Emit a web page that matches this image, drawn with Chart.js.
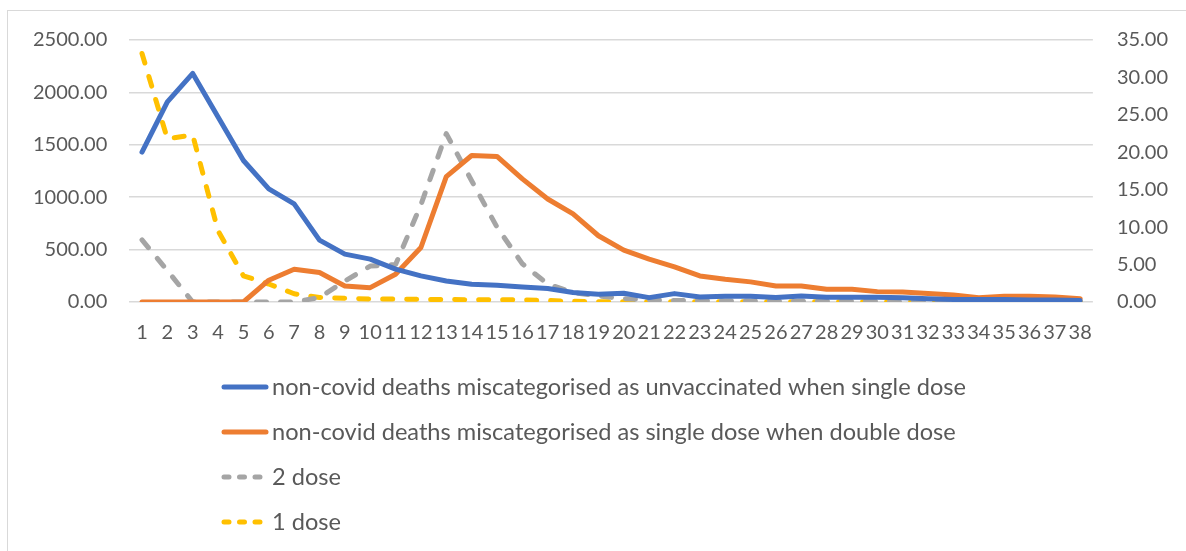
<!DOCTYPE html>
<html>
<head>
<meta charset="utf-8">
<script src="https://cdn.jsdelivr.net/npm/chart.js@4/dist/chart.umd.min.js"></script>
<style>
  body { margin: 0; background: #fff; }
  #wrap { position: relative; width: 1186px; height: 551px; overflow: hidden; }
  #frame { position: absolute; left: 7px; top: 10px; width: 1200px; height: 600px; border: 1px solid #d9d9d9; }
  #chart { position: absolute; left: 0; top: 0; }
</style>
</head>
<body>
<div id="wrap">
  <div id="frame"></div>
  <canvas id="chart" width="1186" height="551"></canvas>
</div>
<script>
var weeks = [];
for (var w = 1; w <= 38; w++) weeks.push(String(w));

// left axis
var unvaxWhenSingle = [1430, 1909, 2181, 1765, 1350, 1079, 936, 591, 457, 409,
  313, 249, 201, 169, 160, 144, 128, 90, 73, 83,
  42, 80, 48, 54, 54, 42, 57, 45, 45, 45,
  40, 30, 25, 25, 25, 20, 18, 15];
var singleWhenDouble = [0, 0, 0, 0, 0, 208, 313, 281, 153, 137,
  265, 520, 1197, 1398, 1389, 1175, 983, 840, 632, 495,
  409, 335, 249, 217, 192, 153, 153, 121, 121, 99,
  95, 80, 67, 41, 54, 54, 48, 32];
// right axis
var twoDose = [8.3, 4.2, 0, 0, 0, 0, 0, 0.6, 2.8, 4.8,
  5.0, 13.0, 22.5, 16.2, 10.0, 5.1, 2.4, 1.25, 0.8, 0.45,
  0.3, 0.2, 0.2, 0.15, 0.15, 0.1, 0.1, 0.1, 0.1, 0.1,
  0.05, 0.05, 0.05, 0.05, 0.05, 0.05, 0.05, 0.05];
var oneDose = [33.2, 21.8, 22.3, 9.5, 3.5, 2.4, 1.1, 0.6, 0.5, 0.4,
  0.4, 0.35, 0.35, 0.3, 0.3, 0.3, 0.2, 0.1, 0.05, 0.05,
  0.05, 0.05, 0.05, 0.05, 0.05, 0.05, 0.05, 0.05, 0.05, 0.05,
  0.05, 0.05, 0.05, 0.05, 0.05, 0.05, 0.05, 0.05];

var seriesNames = [
  'non-covid deaths miscategorised as unvaccinated when single dose',
  'non-covid deaths miscategorised as single dose when double dose',
  '2 dose',
  '1 dose'
];

var FONT = 'Lato, "Open Sans", sans-serif';
var DASH = [10, 14];

// legend drawn as a vertical list under the plot
var listLegend = {
  id: 'listLegend',
  afterDraw: function(chart) {
    var ctx = chart.ctx;
    var y = 387, gap = 45;
    ctx.save();
    chart.data.datasets.forEach(function(ds) {
      var dashed = ds.borderDash && ds.borderDash.length;
      ctx.strokeStyle = ds.borderColor;
      ctx.lineWidth = 5;
      ctx.lineCap = 'round';
      ctx.setLineDash(dashed ? [5, 10.5] : []);
      ctx.beginPath();
      ctx.moveTo(224, y);
      ctx.lineTo(dashed ? 261 : 266, y);
      ctx.stroke();
      ctx.setLineDash([]);
      ctx.fillStyle = '#595959';
      ctx.font = '23.6px ' + FONT;
      ctx.textBaseline = 'middle';
      ctx.textAlign = 'left';
      ctx.fillText(ds.label, 272, y);
      y += gap;
    });
    ctx.restore();
  }
};

new Chart(document.getElementById('chart').getContext('2d'), {
  type: 'line',
  data: {
    labels: weeks,
    datasets: [
      { label: seriesNames[0], data: unvaxWhenSingle, borderColor: '#4472C4', yAxisID: 'y' },
      { label: seriesNames[1], data: singleWhenDouble, borderColor: '#ED7D31', yAxisID: 'y' },
      { label: seriesNames[2], data: twoDose, borderColor: '#A5A5A5', borderDash: DASH, yAxisID: 'y1' },
      { label: seriesNames[3], data: oneDose, borderColor: '#FFC000', borderDash: DASH, yAxisID: 'y1' }
    ].map(function(d) {
      d.borderWidth = 5;
      d.pointRadius = 0;
      d.tension = 0;
      d.fill = false;
      d.borderCapStyle = 'round';
      d.borderJoinStyle = 'round';
      return d;
    })
  },
  options: {
    responsive: false,
    animation: false,
    layout: { padding: { top: 40, left: 11, right: -6, bottom: 195 } },
    plugins: {
      legend: { display: false },
      tooltip: { enabled: false }
    },
    scales: {
      x: {
        offset: true,
        grid: { display: false },
        border: { display: false },
        ticks: {
          autoSkip: false, maxRotation: 0, minRotation: 0,
          color: '#595959', font: { family: FONT, size: 20 }, padding: 11
        }
      },
      y: {
        position: 'left',
        min: 0, max: 2500,
        grid: { color: '#d9d9d9', lineWidth: 1.5, drawTicks: false },
        border: { display: false },
        ticks: {
          stepSize: 500, padding: 22, color: '#595959',
          font: { family: FONT, size: 20 },
          callback: function(v) { return v.toFixed(2); }
        }
      },
      y1: {
        position: 'right',
        min: 0, max: 35,
        grid: { display: false, drawTicks: false },
        border: { display: false },
        ticks: {
          stepSize: 5, padding: 24, color: '#595959',
          font: { family: FONT, size: 20 },
          callback: function(v) { return v.toFixed(2); }
        }
      }
    }
  },
  plugins: [listLegend]
});
</script>
</body>
</html>
